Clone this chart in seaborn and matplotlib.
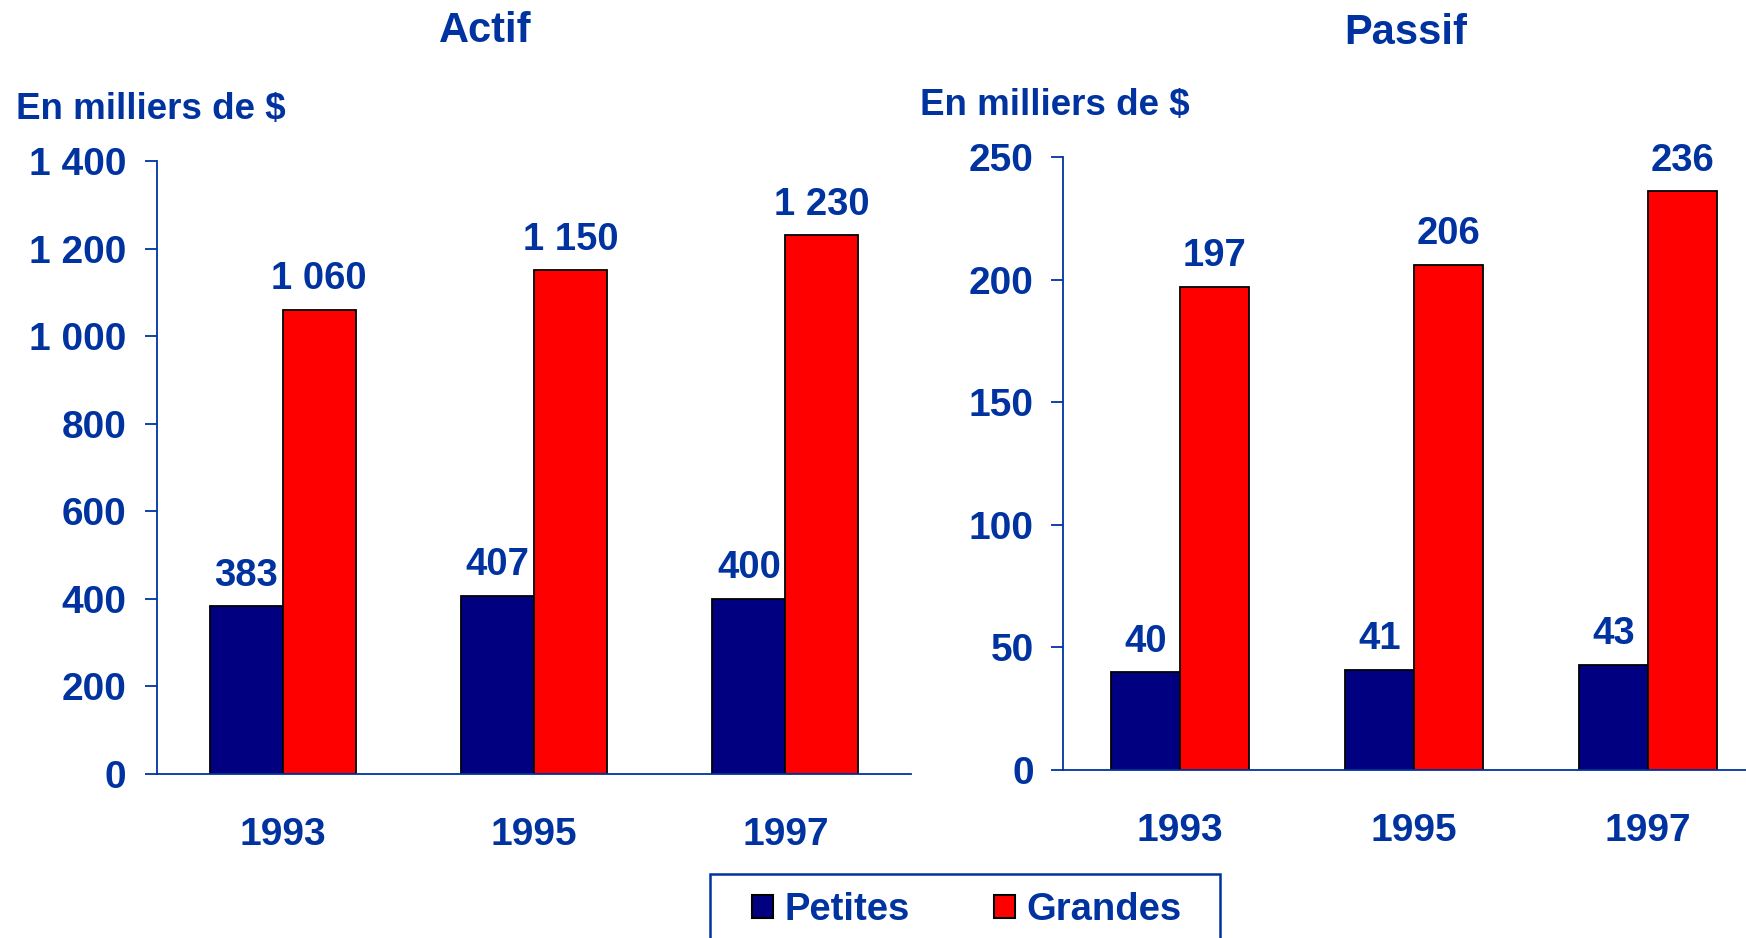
import pandas as pd
import seaborn as sns
import matplotlib.pyplot as plt
from matplotlib.ticker import FuncFormatter
from matplotlib.patches import Patch, Rectangle

sns.set_style('white')
plt.rcParams['font.family'] = ['Liberation Sans', 'DejaVu Sans']
plt.rcParams['font.weight'] = 'bold'

BLUE = '#0033a0'
couleurs = {'Petites': '#000080', 'Grandes': '#ff0000'}

# Données
annees = ['1993', '1995', '1997']
actif_petites = [383, 407, 400]
actif_grandes = [1060, 1150, 1230]
passif_petites = [40, 41, 43]
passif_grandes = [197, 206, 236]


def tableau(petites, grandes):
    return pd.DataFrame({
        'annee': annees * 2,
        'taille': ['Petites'] * 3 + ['Grandes'] * 3,
        'valeur': petites + grandes,
    })


def fr(v, pos=None):
    return f'{v:,.0f}'.replace(',', ' ')


fig = plt.figure(figsize=(17.46, 9.38), dpi=100)
ax1 = fig.add_axes([0.0899, 0.1748, 0.4319, 0.6536])
ax2 = fig.add_axes([0.6088, 0.179, 0.4022, 0.6536])

panneaux = [
    (ax1, tableau(actif_petites, actif_grandes), 1400, 200, 13, 0.58),
    (ax2, tableau(passif_petites, passif_grandes), 250, 50, 12, 0.59),
]

for ax, df, ymax, pas, pad, w in panneaux:
    sns.barplot(data=df, x='annee', y='valeur', hue='taille', palette=couleurs,
                width=w, edgecolor='black', linewidth=1.3, ax=ax,
                legend=False, errorbar=None, saturation=1)
    ax.set_ylim(0, ymax)
    ax.set_xlim(-0.5, 2.5)
    ax.set_yticks(range(0, ymax + 1, pas))
    ax.yaxis.set_major_formatter(FuncFormatter(fr))
    ax.set_xlabel('')
    ax.set_ylabel('')
    for s in ['top', 'right']:
        ax.spines[s].set_visible(False)
    for s in ['left', 'bottom']:
        ax.spines[s].set_color(BLUE)
        ax.spines[s].set_linewidth(1.3)
    ax.tick_params(axis='y', direction='out', length=9, width=1.3, color=BLUE,
                   labelsize=28, labelcolor=BLUE, pad=pad, left=True)
    ax.tick_params(axis='x', length=0, labelsize=28, labelcolor=BLUE, pad=31)
    for c in ax.containers:
        ax.bar_label(c, labels=[fr(v) for v in c.datavalues], padding=9,
                     fontsize=27.5, color=BLUE, fontweight='bold')

# Titres
fig.text(485 / 1746, 1 - 31 / 938, 'Actif', ha='center', va='center',
         fontsize=30, color=BLUE, fontweight='bold')
fig.text(1406 / 1746, 1 - 33 / 938, 'Passif', ha='center', va='center',
         fontsize=30, color=BLUE, fontweight='bold')
fig.text(16 / 1746, 1 - 109 / 938, 'En milliers de $', ha='left', va='center',
         fontsize=26.5, color=BLUE, fontweight='bold')
fig.text(920 / 1746, 1 - 105 / 938, 'En milliers de $', ha='left', va='center',
         fontsize=26.5, color=BLUE, fontweight='bold')

# Légende
cadre = Rectangle((710 / 1746, -0.05), 510 / 1746, 0.05 + 64 / 938,
                  transform=fig.transFigure, facecolor='white',
                  edgecolor=BLUE, linewidth=1.8)
fig.patches.append(cadre)
poignees = [Patch(facecolor=couleurs[k], edgecolor='black', linewidth=1.5, label=k)
            for k in ['Petites', 'Grandes']]
leg = fig.legend(handles=poignees, loc='center',
                 bbox_to_anchor=(967 / 1746, 1 - 910 / 938), ncol=2,
                 fontsize=27.5, frameon=False, borderpad=0,
                 handlelength=0.55, handleheight=0.55, handletextpad=0.3,
                 columnspacing=2.2, borderaxespad=0)
for t in leg.get_texts():
    t.set_color(BLUE)
    t.set_fontweight('bold')

fig.savefig('out.png', dpi=100)
